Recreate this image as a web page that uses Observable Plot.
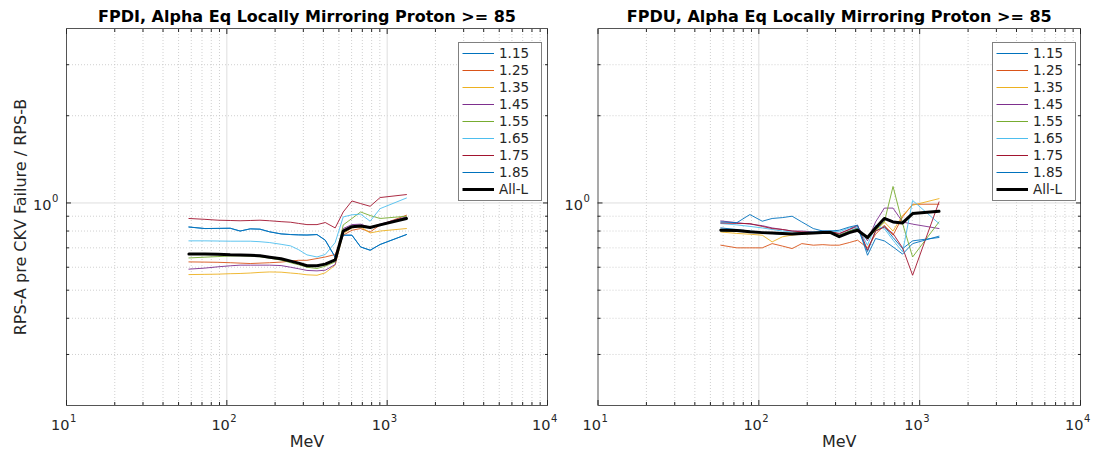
<!DOCTYPE html>
<html><head><meta charset="utf-8">
<script src="https://cdn.jsdelivr.net/npm/d3@7"></script>
<script src="https://cdn.jsdelivr.net/npm/@observablehq/plot@0.6"></script>
<style>
body{margin:0;background:#fff;font-family:"DejaVu Sans",sans-serif}
#wrap{position:relative;width:1095px;height:455px;display:flex}
#wrap svg{display:block}
</style></head><body>
<div id="wrap"></div>
<script>
const energies = [58, 73, 88, 105, 121, 140, 161, 185, 218, 250, 280, 316, 365, 411, 474, 532, 603, 683, 783, 904, 1319];
const seriesNames = ["1.15","1.25","1.35","1.45","1.55","1.65","1.75","1.85","All-L"];
const seriesColors = ["#0072BD","#D95319","#EDB120","#7E2F8E","#77AC30","#4DBEEE","#A2142F","#0072BD","#000000"];
const titles = ["FPDI, Alpha Eq Locally Mirroring Proton >= 85","FPDU, Alpha Eq Locally Mirroring Proton >= 85"];
const xLabel = "MeV";
const yLabel = "RPS-A pre CKV Failure / RPS-B";
const xDecades = [10, 100, 1000, 10000];
const xDecadeExps = ["1","2","3","4"];
const yMajor = [1];
const yMajorExps = ["0"];

// FPDI
const fpdi115 = [0.826,0.816,0.817,0.818,0.800,0.814,0.812,0.795,0.782,0.778,0.776,0.775,0.778,0.744,0.650,0.774,0.774,0.705,0.687,0.719,0.778];
const fpdi125 = [0.626,0.625,0.624,0.622,0.620,0.618,0.620,0.622,0.625,0.630,0.634,0.634,0.643,0.651,0.664,0.774,0.805,0.816,0.794,0.840,0.907];
const fpdi135 = [0.566,0.567,0.568,0.570,0.571,0.573,0.576,0.578,0.577,0.573,0.570,0.565,0.563,0.574,0.610,0.784,0.820,0.827,0.788,0.800,0.816];
const fpdi145 = [0.591,0.596,0.602,0.607,0.610,0.610,0.610,0.610,0.608,0.600,0.593,0.585,0.583,0.586,0.613,0.816,0.842,0.845,0.823,0.845,0.895];
const fpdi155 = [0.646,0.650,0.653,0.656,0.657,0.655,0.652,0.645,0.635,0.622,0.612,0.600,0.594,0.605,0.626,0.840,0.884,0.931,0.905,0.884,0.900];
const fpdi165 = [0.740,0.740,0.739,0.738,0.738,0.738,0.735,0.730,0.720,0.711,0.690,0.662,0.651,0.664,0.730,0.895,0.910,0.915,0.865,0.956,1.040];
const fpdi175 = [0.884,0.878,0.872,0.870,0.868,0.870,0.872,0.868,0.862,0.858,0.850,0.842,0.842,0.856,0.820,0.931,1.016,0.995,0.974,1.044,1.069];
const fpdi185 = [0.826,0.816,0.817,0.818,0.800,0.814,0.812,0.795,0.782,0.778,0.776,0.775,0.778,0.744,0.650,0.774,0.774,0.705,0.687,0.719,0.778];
const fpdiAll = [0.666,0.666,0.665,0.662,0.661,0.660,0.657,0.650,0.642,0.630,0.620,0.607,0.607,0.615,0.636,0.800,0.828,0.833,0.823,0.840,0.884];

// FPDU
const fpdu115 = [0.820,0.810,0.800,0.790,0.785,0.780,0.780,0.785,0.790,0.790,0.795,0.770,0.800,0.820,0.680,0.800,0.830,0.760,0.696,0.740,0.760];
const fpdu125 = [0.715,0.700,0.700,0.700,0.724,0.710,0.696,0.724,0.715,0.718,0.715,0.715,0.730,0.744,0.700,0.780,0.838,0.774,0.895,0.990,0.990];
const fpdu135 = [0.794,0.785,0.780,0.774,0.734,0.764,0.775,0.780,0.785,0.785,0.790,0.770,0.795,0.810,0.760,0.800,0.860,0.800,0.907,0.982,1.035];
const fpdu145 = [0.867,0.855,0.845,0.835,0.820,0.810,0.800,0.800,0.795,0.800,0.800,0.780,0.810,0.830,0.740,0.860,0.960,0.960,0.860,0.845,0.816];
const fpdu155 = [0.800,0.800,0.795,0.790,0.790,0.785,0.785,0.790,0.790,0.795,0.800,0.775,0.800,0.815,0.750,0.805,0.860,1.140,0.849,0.651,0.860];
const fpdu165 = [0.849,0.840,0.830,0.820,0.810,0.800,0.795,0.790,0.795,0.800,0.800,0.795,0.820,0.830,0.715,0.838,0.816,0.744,0.678,1.020,0.849];
const fpdu175 = [0.853,0.850,0.849,0.830,0.816,0.810,0.800,0.795,0.790,0.790,0.795,0.785,0.810,0.838,0.687,0.800,0.826,0.784,0.700,0.563,1.008];
const fpdu185 = [0.860,0.855,0.912,0.865,0.884,0.890,0.900,0.860,0.816,0.800,0.800,0.805,0.826,0.838,0.660,0.754,0.740,0.705,0.666,0.724,0.768];
const fpduAll = [0.805,0.803,0.795,0.790,0.787,0.784,0.782,0.785,0.788,0.790,0.790,0.765,0.790,0.805,0.760,0.820,0.884,0.860,0.853,0.919,0.936];

const fpdiSeries = [fpdi115,fpdi125,fpdi135,fpdi145,fpdi155,fpdi165,fpdi175,fpdi185,fpdiAll];
const fpduSeries = [fpdu115,fpdu125,fpdu135,fpdu145,fpdu155,fpdu165,fpdu175,fpdu185,fpduAll];

const xMinor = [];
for (const d of [10,100,1000]) for (let k=2;k<=9;k++) xMinor.push(d*k);
const yMinor = [0.3,0.4,0.5,0.6,0.7,0.8,0.9,2,3];

const axisColor = "#262626";
const fontFamily = "DejaVu Sans";

function tidy(seriesArr) {
  const out = [];
  seriesArr.forEach((arr, i) => {
    if (i === seriesArr.length - 1) return;
    arr.forEach((v, j) => out.push({E: energies[j], v, s: seriesNames[i]}));
  });
  return out;
}
function tidyAll(arr) { return arr.map((v, j) => ({E: energies[j], v})); }

function makePlot(title, seriesArr, {width, marginLeft, marginRight, showYLabel}) {
  const marks = [
    Plot.ruleX(xMinor, {stroke: "#c4c4c4", strokeDasharray: "1,2", strokeWidth: 0.8}),
    Plot.ruleY(yMinor, {stroke: "#c4c4c4", strokeDasharray: "1,2", strokeWidth: 0.8}),
    Plot.ruleX(xDecades.slice(1, 3), {stroke: "#dedede", strokeWidth: 1}),
    Plot.ruleY(yMajor, {stroke: "#dedede", strokeWidth: 1}),
    Plot.line(tidy(seriesArr), {x: "E", y: "v", z: "s", stroke: "s", strokeWidth: 0.9}),
    Plot.line(tidyAll(seriesArr[seriesArr.length - 1]), {x: "E", y: "v", stroke: "black", strokeWidth: 3}),
    Plot.frame({stroke: "#555", strokeWidth: 1}),
    Plot.axisX(xDecades, {anchor: "bottom", tickSize: -5, tickFormat: () => "", label: null, stroke: axisColor}),
    Plot.axisX(xDecades, {anchor: "top", tickSize: -5, tickFormat: () => "", label: null, stroke: axisColor}),
    Plot.axisX(xMinor, {anchor: "bottom", tickSize: -3, tickFormat: () => "", label: null, stroke: axisColor}),
    Plot.axisX(xMinor, {anchor: "top", tickSize: -3, tickFormat: () => "", label: null, stroke: axisColor}),
    Plot.axisY(yMajor, {anchor: "left", tickSize: -5, tickFormat: () => "", label: null, stroke: axisColor}),
    Plot.axisY(yMajor, {anchor: "right", tickSize: -5, tickFormat: () => "", label: null, stroke: axisColor}),
    Plot.axisY(yMinor, {anchor: "left", tickSize: -3, tickFormat: () => "", label: null, stroke: axisColor}),
    Plot.axisY(yMinor, {anchor: "right", tickSize: -3, tickFormat: () => "", label: null, stroke: axisColor}),
    // x tick labels "10" + exponent
    Plot.text(xDecades, {x: d => d, text: () => "10", frameAnchor: "bottom", lineAnchor: "middle", dy: 20, dx: 3, textAnchor: "end", fontSize: 14.5, fill: axisColor}),
    Plot.text(xDecades, {x: d => d, text: (d, i) => xDecadeExps[i], frameAnchor: "bottom", lineAnchor: "middle", dy: 13.5, dx: 3.5, textAnchor: "start", fontSize: 10, fill: axisColor}),
    Plot.text([title], {text: d => d, frameAnchor: "top", lineAnchor: "middle", textAnchor: "middle", dy: -12, fontSize: 16, fontWeight: "bold", fill: "#000"}),
    Plot.text([xLabel], {text: d => d, frameAnchor: "bottom", lineAnchor: "middle", textAnchor: "middle", dy: 36, fontSize: 16, fill: axisColor}),
    Plot.text(yMajor, {y: d => d, text: () => "10", frameAnchor: "left", lineAnchor: "middle", dx: -15, dy: 2, textAnchor: "end", fontSize: 14.5, fill: axisColor}),
    Plot.text(yMajor, {y: d => d, text: (d, i) => yMajorExps[i], frameAnchor: "left", lineAnchor: "middle", dx: -14.5, dy: -4.5, textAnchor: "start", fontSize: 10, fill: axisColor})
  ];
  if (showYLabel) {
    marks.push(
      Plot.text([yLabel], {text: d => d, frameAnchor: "left", lineAnchor: "middle", textAnchor: "middle", dx: -46, rotate: -90, fontSize: 16, fill: axisColor})
    );
  }
  return Plot.plot({
    width, height: 455, marginLeft, marginRight, marginTop: 28, marginBottom: 50,
    style: {fontFamily, background: "white", overflow: "visible"},
    x: {type: "log", domain: [10, 10000], label: null},
    y: {type: "log", domain: [0.2, 4], label: null},
    color: {domain: seriesNames.slice(0, 8), range: seriesColors.slice(0, 8)},
    marks
  });
}

function legend(left) {
  const svg = d3.create("svg").attr("width", 84).attr("height", 159)
    .style("position", "absolute").style("left", left + "px").style("top", "42px");
  svg.append("rect").attr("x", 0.5).attr("y", 0.5).attr("width", 83).attr("height", 158)
    .attr("fill", "white").attr("stroke", "#808080").attr("stroke-width", 1);
  seriesNames.forEach((n, i) => {
    const y = 11.5 + 17 * i;
    svg.append("line").attr("x1", 4.5).attr("x2", 36).attr("y1", y).attr("y2", y)
      .attr("stroke", seriesColors[i]).attr("stroke-width", i === 8 ? 3 : 1);
    svg.append("text").attr("x", 41).attr("y", y).attr("dy", "0.36em")
      .attr("font-family", fontFamily).attr("font-size", 13.5).attr("fill", axisColor).text(n);
  });
  return svg.node();
}

const wrap = document.getElementById("wrap");
wrap.appendChild(makePlot(titles[0], fpdiSeries, {width: 560, marginLeft: 66, marginRight: 13, showYLabel: true}));
wrap.appendChild(makePlot(titles[1], fpduSeries, {width: 535, marginLeft: 37.5, marginRight: 15, showYLabel: false}));
wrap.appendChild(legend(458));
wrap.appendChild(legend(991.5));
</script>
</body></html>
